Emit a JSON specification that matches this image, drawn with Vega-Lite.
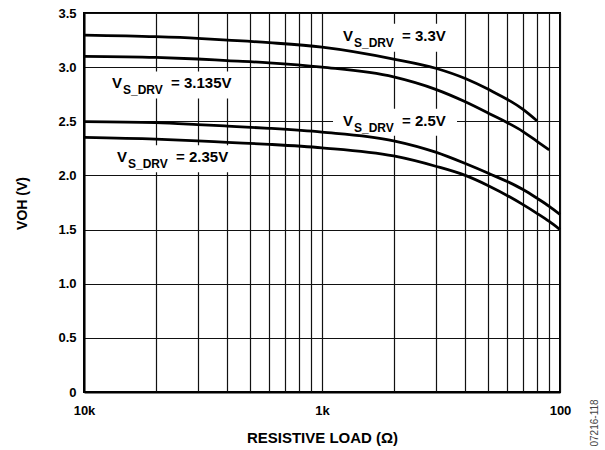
{
  "$schema": "https://vega.github.io/schema/vega-lite/v6.json",
  "width": 476,
  "height": 379,
  "autosize": {"type": "none"},
  "padding": {"left": 84, "top": 13, "right": 45, "bottom": 58},
  "background": "white",
  "config": {
    "view": {"stroke": "black", "strokeWidth": 2},
    "font": "Liberation Sans",
    "axis": {
      "labelFont": "Liberation Sans",
      "labelFontSize": 13,
      "labelFontWeight": "bold",
      "labelColor": "black",
      "titleFont": "Liberation Sans",
      "titleFontWeight": "bold",
      "titleColor": "black",
      "ticks": false,
      "domainColor": "black",
      "domainWidth": 2,
      "gridColor": "#111",
      "gridWidth": 1.2,
      "gridOpacity": 1
    }
  },
  "resolve": {"axis": {"y": "independent"}},
  "datasets": {
    "curves": [
      {"series": "3.3V", "R": 10000, "V": 3.296},
      {"series": "3.3V", "R": 5000, "V": 3.281},
      {"series": "3.3V", "R": 3333, "V": 3.266},
      {"series": "3.3V", "R": 2500, "V": 3.25},
      {"series": "3.3V", "R": 1667, "V": 3.226},
      {"series": "3.3V", "R": 1000, "V": 3.185},
      {"series": "3.3V", "R": 500, "V": 3.075},
      {"series": "3.3V", "R": 333, "V": 2.99},
      {"series": "3.3V", "R": 250, "V": 2.895},
      {"series": "3.3V", "R": 200, "V": 2.795},
      {"series": "3.3V", "R": 143, "V": 2.61},
      {"series": "3.3V", "R": 125, "V": 2.505},
      {"series": "3.135V", "R": 10000, "V": 3.1},
      {"series": "3.135V", "R": 5000, "V": 3.09},
      {"series": "3.135V", "R": 3333, "V": 3.075},
      {"series": "3.135V", "R": 2500, "V": 3.06},
      {"series": "3.135V", "R": 1667, "V": 3.04},
      {"series": "3.135V", "R": 1000, "V": 3.0},
      {"series": "3.135V", "R": 500, "V": 2.91},
      {"series": "3.135V", "R": 333, "V": 2.795},
      {"series": "3.135V", "R": 250, "V": 2.68},
      {"series": "3.135V", "R": 200, "V": 2.575},
      {"series": "3.135V", "R": 143, "V": 2.405},
      {"series": "3.135V", "R": 125, "V": 2.315},
      {"series": "3.135V", "R": 111, "V": 2.235},
      {"series": "2.5V", "R": 10000, "V": 2.496},
      {"series": "2.5V", "R": 5000, "V": 2.487},
      {"series": "2.5V", "R": 3333, "V": 2.47},
      {"series": "2.5V", "R": 2500, "V": 2.456},
      {"series": "2.5V", "R": 1667, "V": 2.435},
      {"series": "2.5V", "R": 1000, "V": 2.4},
      {"series": "2.5V", "R": 500, "V": 2.32},
      {"series": "2.5V", "R": 333, "V": 2.215},
      {"series": "2.5V", "R": 250, "V": 2.11},
      {"series": "2.5V", "R": 200, "V": 2.02},
      {"series": "2.5V", "R": 143, "V": 1.87},
      {"series": "2.5V", "R": 125, "V": 1.79},
      {"series": "2.5V", "R": 111, "V": 1.715},
      {"series": "2.5V", "R": 100, "V": 1.64},
      {"series": "2.35V", "R": 10000, "V": 2.352},
      {"series": "2.35V", "R": 5000, "V": 2.336},
      {"series": "2.35V", "R": 3333, "V": 2.32},
      {"series": "2.35V", "R": 2500, "V": 2.306},
      {"series": "2.35V", "R": 1667, "V": 2.287},
      {"series": "2.35V", "R": 1000, "V": 2.255},
      {"series": "2.35V", "R": 500, "V": 2.18},
      {"series": "2.35V", "R": 333, "V": 2.085},
      {"series": "2.35V", "R": 250, "V": 2.0},
      {"series": "2.35V", "R": 200, "V": 1.905},
      {"series": "2.35V", "R": 143, "V": 1.73},
      {"series": "2.35V", "R": 125, "V": 1.65},
      {"series": "2.35V", "R": 111, "V": 1.575},
      {"series": "2.35V", "R": 100, "V": 1.5}
    ],
    "labels": [
      {"main": "= 3.3V", "R": 816, "V": 3.29},
      {"main": "= 3.135V", "R": 7625, "V": 2.85},
      {"main": "= 2.5V", "R": 816, "V": 2.505},
      {"main": "= 2.35V", "R": 7265, "V": 2.167}
    ]
  },
  "layer": [
    {
      "data": {"name": "labels"},
      "mark": {"type": "point", "filled": true, "fill": "white", "opacity": 1, "strokeWidth": 0, "size": 400},
      "encoding": {
        "x": {
          "field": "R", "type": "quantitative",
          "scale": {"type": "log", "domain": [100, 10000], "reverse": true, "nice": false},
          "axis": {
            "values": [10000, 5000, 3333.33, 2500, 2000, 1666.67, 1428.57, 1250, 1111.11, 1000, 500, 333.33, 250, 200, 166.67, 142.86, 125, 111.11, 100],
            "labelExpr": "datum.value == 10000 ? '10k' : datum.value == 1000 ? '1k' : datum.value == 100 ? '100' : ''",
            "grid": true,
            "labelFlush": false,
            "labelOverlap": false,
            "labelPadding": 12,
            "title": "RESISTIVE LOAD (Ω)",
            "titleFontSize": 15,
            "titleY": 45,
            "titleBaseline": "middle"
          }
        },
        "y": {
          "field": "V", "type": "quantitative",
          "scale": {"domain": [0, 3.5], "nice": false},
          "axis": {
            "values": [0, 0.5, 1, 1.5, 2, 2.5, 3, 3.5],
            "labelExpr": "datum.value == 0 ? '0' : format(datum.value, '.1f')",
            "grid": true,
            "labelPadding": 8,
            "title": "VOH (V)",
            "titleFontSize": 14,
            "titleX": -62,
            "titleY": 190,
            "titleBaseline": "middle",
            "titleAlign": "center"
          }
        },
        "shape": {
          "field": "main", "type": "nominal",
          "scale": {
            "domain": ["= 3.3V", "= 3.135V", "= 2.5V", "= 2.35V"],
            "range": [
              "M-1,-1.2L11.4,-1.2L11.4,1.6L-1,1.6Z",
              "M-1,-1.2L13.3,-1.2L13.3,1.5L-1,1.5Z",
              "M-1,-1.2L11.4,-1.2L11.4,1.5L-1,1.5Z",
              "M-1,-1.2L12.4,-1.2L12.4,1.5L-1,1.5Z"
            ]
          },
          "legend": null
        }
      }
    },
    {
      "data": {"name": "curves"},
      "mark": {"type": "line", "color": "black", "strokeWidth": 2.8, "interpolate": "monotone"},
      "encoding": {
        "x": {"field": "R", "type": "quantitative"},
        "y": {"field": "V", "type": "quantitative", "axis": null},
        "detail": {"field": "series"},
        "order": {"field": "R", "sort": "descending"}
      }
    },
    {
      "data": {"name": "labels"},
      "mark": {"type": "text", "align": "left", "baseline": "middle", "fontSize": 15, "fontWeight": "bold", "color": "black"},
      "encoding": {
        "x": {"field": "R", "type": "quantitative"},
        "y": {"field": "V", "type": "quantitative", "axis": null},
        "text": {"value": "V"}
      }
    },
    {
      "data": {"name": "labels"},
      "mark": {"type": "text", "align": "left", "baseline": "middle", "fontSize": 12, "fontWeight": "bold", "color": "black", "dx": 11, "dy": 7},
      "encoding": {
        "x": {"field": "R", "type": "quantitative"},
        "y": {"field": "V", "type": "quantitative", "axis": null},
        "text": {"value": "S_DRV"}
      }
    },
    {
      "data": {"name": "labels"},
      "mark": {"type": "text", "align": "left", "baseline": "middle", "fontSize": 15, "fontWeight": "bold", "color": "black", "dx": 59},
      "encoding": {
        "x": {"field": "R", "type": "quantitative"},
        "y": {
          "field": "V", "type": "quantitative",
          "axis": {
            "orient": "right",
            "title": "07216-118",
            "labels": false,
            "domain": false,
            "grid": false,
            "ticks": false,
            "titleAngle": 270,
            "titleX": 34,
            "titleY": 433,
            "titleAlign": "left",
            "titleBaseline": "middle",
            "titleFontSize": 10,
            "titleFontWeight": "normal",
            "titleColor": "#444"
          }
        },
        "text": {"field": "main"}
      }
    }
  ]
}
